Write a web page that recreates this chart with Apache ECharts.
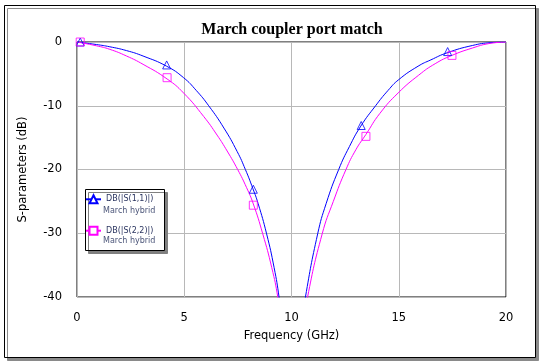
<!DOCTYPE html>
<html>
<head>
<meta charset="utf-8">
<script src="https://cdn.jsdelivr.net/npm/echarts@6.0.0/dist/echarts.min.js"></script>
<style>
html,body{margin:0;padding:0;background:#fff;}
#chart{width:540px;height:362px;}
</style>
</head>
<body>
<div id="chart"></div>
<script>
// ---- data ----
const titleText = 'March coupler port match';
const xName = 'Frequency (GHz)';
const yName = 'S-parameters (dB)';
const s11Name = 'DB(|S(1,1)|)';
const s22Name = 'DB(|S(2,2)|)';
const subName = 'March hybrid';

const freqS11 = [0, 0.91, 1.53, 2.31, 3.08, 4.18, 4.97, 5.56, 6.14, 6.85, 7.47, 7.85, 8.2, 8.44, 8.84, 9.19, 9.42, 9.6, 10.03,
                 10.45, 10.65, 11.22, 11.62, 12.2, 12.7, 13.23, 13.92, 14.5, 15.0, 15.9, 16.5, 17.25, 18.43, 19.3, 20];
const s11 = [0, -0.4, -0.75, -1.35, -2.2, -3.8, -5.6, -7.6, -10, -13.5, -17.2, -20, -23.0, -25.3, -30.1, -35.4, -40, -45, -60,
             -45, -40, -30.1, -25.3, -20, -16.4, -13.2, -10, -7.6, -5.9, -3.8, -2.8, -1.7, -0.55, -0.1, 0];

const freqS22 = [0, 0.91, 1.53, 2.31, 3.08, 4.2, 4.97, 5.91, 6.53, 7.0, 7.49, 7.9, 8.22, 8.66, 9.08, 9.36, 9.55, 10.0,
                 10.55, 10.75, 11.43, 11.95, 12.54, 13.0, 13.47, 14.12, 14.97, 15.93, 16.7, 17.48, 18.43, 19.2, 20];
const s22 = [0, -0.6, -1.15, -2.2, -3.5, -5.8, -8.0, -11.7, -14.6, -17.1, -20, -22.8, -25.4, -30.1, -35.4, -40, -45, -60,
             -45, -40, -30.1, -25.0, -20, -16.9, -14.5, -11.2, -8.0, -5.2, -3.4, -2.1, -0.95, -0.25, 0];

const mkFreqS11 = [0.15, 4.18, 8.22, 13.25, 17.28];
const mkS11 = [0, -3.6, -23.1, -13.1, -1.5];
const mkFreqS22 = [0.15, 4.2, 8.22, 13.47, 17.48];
const mkS22 = [0, -5.6, -25.6, -14.8, -2.1];

const xMin = 0, xMax = 20, xStep = 5;
const yMin = -40, yMax = 0, yStep = 10;

const zip = (a, b) => a.map((v, i) => [v, b[i]]);
const BLUE = '#0000ff', MAG = '#ff00ff';
const FONT = 'DejaVu Sans';

const chart = echarts.init(document.getElementById('chart'), null, {renderer: 'canvas'});
chart.setOption({
  animation: false,
  backgroundColor: '#fff',
  title: {
    text: titleText, left: 292, top: 22, padding: 0, textAlign: 'center',
    textStyle: {fontFamily: 'Liberation Serif', fontWeight: 'bold', fontSize: 16, color: '#000'}
  },
  grid: {left: 77, right: 34, top: 42, bottom: 65, show: true, borderColor: '#000', borderWidth: 1, backgroundColor: 'transparent'},
  xAxis: {
    type: 'value', min: xMin, max: xMax, interval: xStep,
    name: xName, nameLocation: 'middle', nameGap: 33,
    nameTextStyle: {fontFamily: FONT, fontSize: 11.5, color: '#000'},
    axisLine: {show: false}, axisTick: {show: false},
    axisLabel: {margin: 15, fontFamily: FONT, fontSize: 11.5, color: '#000'},
    splitLine: {show: true, lineStyle: {color: '#b8b8b8', width: 1}}
  },
  yAxis: {
    type: 'value', min: yMin, max: yMax, interval: yStep,
    name: yName, nameLocation: 'middle', nameGap: 48,
    nameTextStyle: {fontFamily: FONT, fontSize: 11.5, color: '#000'},
    axisLine: {show: false}, axisTick: {show: false},
    axisLabel: {margin: 15, fontFamily: FONT, fontSize: 11.5, color: '#000'},
    splitLine: {show: true, lineStyle: {color: '#b8b8b8', width: 1}}
  },
  legend: {
    data: [s11Name, s22Name], orient: 'vertical', left: 85, top: 194.3, padding: 0,
    itemWidth: 15, itemHeight: 10, itemGap: 21.4,
    textStyle: {fontFamily: FONT, fontSize: 8, lineHeight: 10, color: '#2b3560'}
  },
  graphic: [
    {type: 'rect', z: -10, shape: {x: 4.5, y: 5.5, width: 531, height: 352},
     style: {fill: '#fff', stroke: '#000', lineWidth: 1, shadowColor: '#8a8a8a', shadowOffsetX: 3, shadowOffsetY: 3, shadowBlur: 0}},
    {type: 'rect', z: 3, shape: {x: 85.5, y: 189.5, width: 79, height: 61},
     style: {fill: '#fff', stroke: '#000', lineWidth: 1, shadowColor: '#808080', shadowOffsetX: 3, shadowOffsetY: 3, shadowBlur: 0}},
    {type: 'text', z: 5, x: 103, y: 210.7,
     style: {text: subName, font: '8px "DejaVu Sans"', fill: '#4a5478', textVerticalAlign: 'middle', verticalAlign: 'middle'}},
    {type: 'text', z: 5, x: 103, y: 241,
     style: {text: subName, font: '8px "DejaVu Sans"', fill: '#4a5478', textVerticalAlign: 'middle', verticalAlign: 'middle'}}
  ],
  series: [
    {name: s11Name, type: 'line', data: zip(freqS11, s11), smooth: 0.5, clip: true,
     symbol: 'emptyTriangle', showSymbol: false, color: BLUE,
     lineStyle: {color: BLUE, width: 1}, itemStyle: {color: BLUE}, z: 2},
    {name: s22Name, type: 'line', data: zip(freqS22, s22), smooth: 0.5, clip: true,
     symbol: 'emptyRect', showSymbol: false, color: MAG,
     lineStyle: {color: MAG, width: 1}, itemStyle: {color: MAG}, z: 2},
    {name: 'mk11', type: 'scatter', data: zip(mkFreqS11, mkS11), clip: true,
     symbol: 'triangle', symbolSize: 8,
     itemStyle: {color: 'transparent', borderColor: BLUE, borderWidth: 1}, z: 3},
    {name: 'mk22', type: 'scatter', data: zip(mkFreqS22, mkS22), clip: true,
     symbol: 'rect', symbolSize: 8,
     itemStyle: {color: 'transparent', borderColor: MAG, borderWidth: 1}, z: 3}
  ]
});
</script>
</body>
</html>
